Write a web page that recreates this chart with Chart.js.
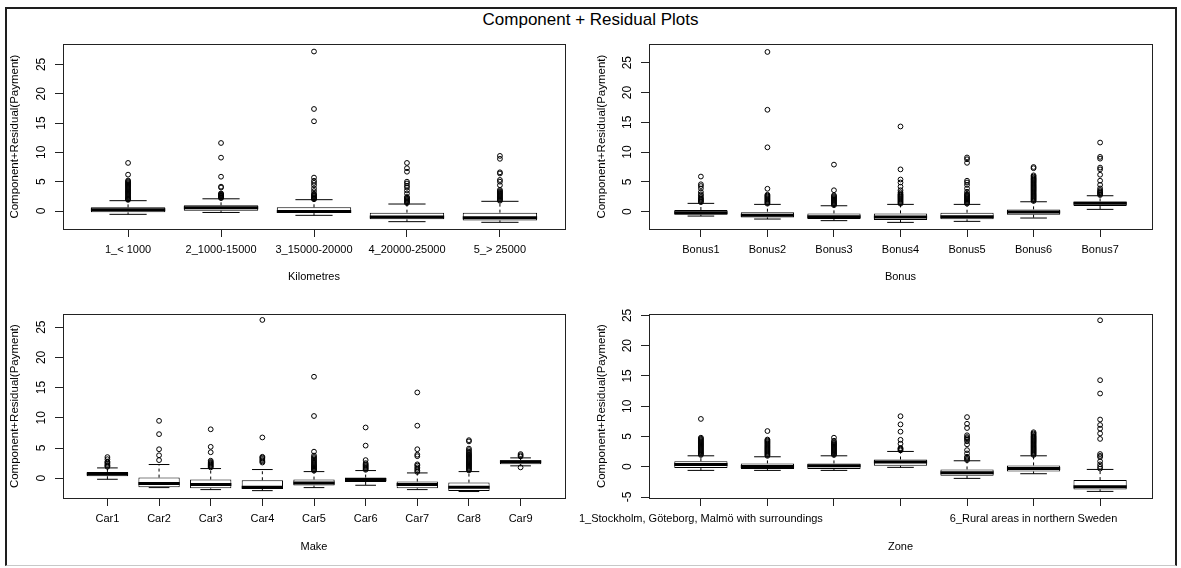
<!DOCTYPE html>
<html>
<head>
<meta charset="utf-8">
<script src="https://cdn.jsdelivr.net/npm/chart.js@4.4.1/dist/chart.umd.min.js"></script>
<style>
  html, body { margin: 0; padding: 0; background: #fff; }
  body { width: 1181px; height: 568px; position: relative; overflow: hidden;
         font-family: "Liberation Sans", Arial, sans-serif; }
  #frame { position: absolute; left: 5px; top: 7px; width: 1172px; height: 559px; box-sizing: border-box;
           border: 2px solid #1e1e1e; border-bottom: 1px solid #c8c8c8; }
  #title { position: absolute; left: 0; top: 10px; width: 1181px; text-align: center;
           font-size: 17px; line-height: 20px; color: #000; }
  canvas { position: absolute; }
</style>
</head>
<body>
<div id="frame"></div>
<div id="title">Component + Residual Plots</div>
<canvas id="kmChart" width="590" height="270" style="left:0;top:30px"></canvas>
<canvas id="bonusChart" width="621" height="270" style="left:560px;top:30px"></canvas>
<canvas id="makeChart" width="590" height="268" style="left:0;top:300px"></canvas>
<canvas id="zoneChart" width="621" height="268" style="left:560px;top:300px"></canvas>
<script>
// ---- Kilometres ----
const kmLabels = ["1_< 1000", "2_1000-15000", "3_15000-20000", "4_20000-25000", "5_> 25000"];
const kmQ1 = [-0.23, 0.05, -0.36, -1.42, -1.6];
const kmMedian = [0.2, 0.57, -0.1, -1.02, -1.14];
const kmQ3 = [0.62, 0.97, 0.63, -0.28, -0.28];
const kmLow = [-0.57, -0.25, -0.74, -1.82, -1.93];
const kmHigh = [1.76, 2.08, 1.93, 1.19, 1.65];
const kmOutliers = [
  [1.9, 2.0, 2.1, 2.2, 2.35, 2.5, 2.65, 2.8, 2.95, 3.1, 3.25, 3.4, 3.55, 3.7, 3.85, 4.0, 4.15, 4.3, 4.45, 4.6, 4.75, 4.9, 5.05, 5.2, 6.2, 8.2],
  [2.2, 2.3, 2.4, 2.5, 2.6, 2.7, 2.8, 2.9, 3.0, 4.0, 4.15, 5.85, 9.1, 11.6],
  [2.0, 2.1, 2.2, 2.35, 2.5, 2.65, 2.8, 2.95, 3.4, 3.85, 4.4, 4.8, 5.15, 5.7, 15.3, 17.4, 27.2],
  [1.35, 1.5, 1.65, 1.8, 1.95, 2.1, 2.25, 2.4, 3.0, 3.5, 4.0, 4.3, 4.7, 5.0, 6.7, 7.3, 8.2],
  [1.75, 1.9, 2.05, 2.2, 2.35, 2.5, 2.65, 2.8, 2.95, 3.1, 3.25, 3.4, 3.6, 4.4, 5.0, 5.3, 6.4, 6.6, 8.9, 9.4]
];

// ---- Bonus ----
const bonusLabels = ["Bonus1", "Bonus2", "Bonus3", "Bonus4", "Bonus5", "Bonus6", "Bonus7"];
const bonusQ1 = [-0.5, -0.95, -1.23, -1.4, -1.28, -0.5, 0.95];
const bonusMedian = [-0.17, -0.61, -0.84, -0.9, -0.84, -0.06, 1.4];
const bonusQ3 = [0.28, 0.0, -0.28, -0.28, -0.17, 0.39, 1.73];
const bonusLow = [-0.73, -1.23, -1.5, -1.79, -1.62, -1.06, 0.39];
const bonusHigh = [1.4, 1.23, 1.0, 1.23, 1.23, 1.67, 2.68];
const bonusOutliers = [
  [1.6, 1.75, 1.9, 2.05, 2.2, 2.4, 2.7, 2.9, 3.3, 3.9, 4.3, 4.6, 5.9],
  [1.35, 1.5, 1.65, 1.8, 1.95, 2.1, 2.25, 2.4, 2.55, 2.7, 2.85, 3.85, 10.8, 17.1, 26.8],
  [1.1, 1.25, 1.4, 1.55, 1.7, 1.85, 2.0, 2.15, 2.3, 2.45, 2.6, 2.75, 3.6, 7.9],
  [1.35, 1.5, 1.65, 1.8, 1.95, 2.1, 2.25, 2.4, 2.55, 2.7, 2.85, 3.0, 3.25, 3.6, 4.2, 4.9, 5.4, 7.1, 14.3],
  [1.35, 1.5, 1.65, 1.8, 1.95, 2.1, 2.25, 2.4, 2.55, 2.7, 2.85, 3.0, 3.35, 3.9, 4.5, 4.9, 5.2, 8.2, 8.8, 9.1],
  [1.8, 1.95, 2.1, 2.25, 2.4, 2.55, 2.7, 2.85, 3.0, 3.15, 3.3, 3.45, 3.6, 3.75, 3.9, 4.05, 4.2, 4.35, 4.5, 4.65, 4.8, 4.95, 5.1, 5.25, 5.4, 5.55, 5.7, 5.9, 6.1, 7.3, 7.5],
  [2.8, 2.95, 3.1, 3.25, 3.4, 3.6, 3.9, 4.5, 5.2, 6.2, 7.1, 7.4, 8.9, 9.2, 11.6]
];

// ---- Make ----
const makeLabels = ["Car1", "Car2", "Car3", "Car4", "Car5", "Car6", "Car7", "Car8", "Car9"];
const makeQ1 = [0.33, -1.49, -1.66, -1.77, -1.22, -0.61, -1.66, -2.1, 2.32];
const makeMedian = [0.72, -0.88, -1.05, -1.49, -0.77, -0.22, -1.05, -1.49, 2.71];
const makeQ3 = [1.05, 0.11, -0.22, -0.33, -0.22, 0.11, -0.55, -0.72, 2.99];
const makeLow = [-0.17, -1.55, -1.88, -2.05, -1.55, -1.16, -1.88, -2.2, 2.05];
const makeHigh = [1.71, 2.27, 1.6, 1.44, 1.1, 1.27, 0.88, 1.1, 3.37];
const makeOutliers = [
  [1.9, 2.05, 2.2, 2.4, 2.6, 2.75, 3.15, 3.5],
  [3.0, 3.8, 4.8, 7.3, 9.5],
  [1.8, 1.95, 2.1, 2.25, 2.4, 2.55, 2.7, 2.9, 4.3, 5.2, 8.1],
  [2.6, 2.8, 3.0, 3.2, 3.4, 3.55, 6.75, 26.2],
  [1.25, 1.4, 1.55, 1.7, 1.85, 2.0, 2.15, 2.3, 2.5, 2.7, 2.9, 3.1, 3.3, 3.5, 3.75, 4.4, 10.3, 16.8],
  [1.4, 1.55, 1.7, 1.85, 2.0, 2.15, 2.3, 2.5, 3.0, 5.4, 8.4],
  [1.05, 1.3, 1.55, 1.8, 2.1, 2.3, 3.65, 3.9, 4.8, 8.7, 14.2],
  [1.3, 1.45, 1.6, 1.75, 1.9, 2.05, 2.2, 2.35, 2.5, 2.65, 2.8, 2.95, 3.1, 3.25, 3.4, 3.55, 3.7, 3.85, 4.0, 4.2, 4.4, 4.65, 4.9, 6.1, 6.3],
  [1.8, 3.6, 3.8, 4.0]
];

// ---- Zone ----
const zoneLabels = ["1_Stockholm, Göteborg, Malmö with surroundings", "", "", "", "", "6_Rural areas in northern Sweden", ""];
const zoneQ1 = [-0.22, -0.38, -0.38, 0.16, -1.48, -0.77, -3.74];
const zoneMedian = [0.38, 0.05, 0.16, 0.77, -0.99, -0.27, -3.3];
const zoneQ3 = [0.93, 0.55, 0.55, 1.2, -0.44, 0.22, -2.2];
const zoneLow = [-0.6, -0.6, -0.6, -0.1, -1.92, -1.15, -4.07];
const zoneHigh = [1.81, 1.65, 1.81, 2.53, 0.99, 1.81, -0.44];
const zoneOutliers = [
  [1.95, 2.1, 2.25, 2.4, 2.55, 2.7, 2.85, 3.0, 3.15, 3.3, 3.45, 3.6, 3.75, 3.9, 4.05, 4.2, 4.35, 4.5, 4.65, 4.8, 7.9],
  [1.8, 1.95, 2.1, 2.25, 2.4, 2.55, 2.7, 2.85, 3.0, 3.15, 3.3, 3.45, 3.6, 3.75, 3.9, 4.05, 4.2, 4.35, 4.5, 5.9],
  [1.95, 2.1, 2.25, 2.4, 2.55, 2.7, 2.85, 3.0, 3.15, 3.3, 3.45, 3.6, 3.75, 3.9, 4.05, 4.3, 4.8],
  [2.7, 2.85, 3.0, 3.1, 3.8, 4.45, 5.8, 7.0, 8.35],
  [1.1, 1.3, 1.5, 1.65, 2.2, 2.75, 3.7, 4.2, 4.5, 4.7, 4.9, 5.2, 6.4, 7.1, 8.2],
  [1.95, 2.1, 2.25, 2.4, 2.55, 2.7, 2.85, 3.0, 3.15, 3.3, 3.45, 3.6, 3.75, 3.9, 4.05, 4.2, 4.35, 4.5, 4.65, 4.8, 4.95, 5.1, 5.3, 5.5, 5.7],
  [-0.3, 0.0, 0.4, 0.9, 1.6, 1.8, 2.1, 4.6, 5.5, 6.3, 6.9, 7.8, 12.1, 14.3, 24.2]
];

// y axis ticks / limits
const yTicksPos = [0, 5, 10, 15, 20, 25];
const yTicksZone = [-5, 0, 5, 10, 15, 20, 25];
const kmYRange = [-3.07, 28.45];
const bonusYRange = [-2.9, 28.1];
const makeYRange = [-3.27, 27.15];
const zoneYRange = [-5.16, 25.2];

const FONT = "'Liberation Sans', Arial, sans-serif";
const INK = "#000";

// frame around the plot region (R's box())
const plotFrame = {
  id: "plotFrame",
  afterDatasetsDraw(chart) {
    const { ctx, chartArea: a } = chart;
    ctx.save();
    ctx.strokeStyle = "#222";
    ctx.lineWidth = 1;
    ctx.strokeRect(Math.round(a.left) + 0.5, Math.round(a.top) + 0.5,
      Math.round(a.right - a.left), Math.round(a.bottom - a.top));
    ctx.restore();
  }
};

function boxDatasets(q1, med, q3, lo, hi, outliers) {
  const pos = q1.map((_, i) => i + 1);
  return [
    {
      type: "line", label: "median", order: 0,
      data: pos.flatMap((x, i) => [{ x: x - 0.4, y: med[i] }, { x: x + 0.4, y: med[i] }, { x: x, y: null }]),
      borderColor: INK, borderWidth: 3, borderCapStyle: "butt", pointRadius: 0, spanGaps: false
    },
    {
      type: "scatter", label: "outliers", order: 0,
      data: outliers.flatMap((vals, i) => vals.map((v) => ({ x: pos[i], y: v }))),
      pointRadius: 2.4, pointBorderWidth: 1, pointBorderColor: INK,
      pointBackgroundColor: "rgba(0,0,0,0)"
    },
    {
      type: "bar", label: "box", order: 1,
      data: pos.map((x, i) => ({ x: x, y: [q1[i], q3[i]] })),
      backgroundColor: "#fff", borderColor: INK, borderWidth: 1, borderSkipped: false,
      barPercentage: 0.8, categoryPercentage: 1
    },
    {
      type: "line", label: "whisker", order: 2,
      data: pos.flatMap((x, i) => [
        { x: x, y: q3[i] }, { x: x, y: hi[i] }, { x: x, y: null },
        { x: x, y: q1[i] }, { x: x, y: lo[i] }, { x: x, y: null }
      ]),
      borderColor: INK, borderWidth: 1, borderDash: [3, 3], pointRadius: 0, spanGaps: false
    },
    {
      type: "line", label: "staple", order: 2,
      data: pos.flatMap((x, i) => [
        { x: x - 0.2, y: hi[i] }, { x: x + 0.2, y: hi[i] }, { x: x, y: null },
        { x: x - 0.2, y: lo[i] }, { x: x + 0.2, y: lo[i] }, { x: x, y: null }
      ]),
      borderColor: INK, borderWidth: 1, pointRadius: 0, spanGaps: false
    }
  ];
}

function makePanel(id, p) {
  const n = p.labels.length;
  new Chart(document.getElementById(id), {
    type: "bar",
    data: { datasets: boxDatasets(p.q1, p.med, p.q3, p.lo, p.hi, p.out) },
    plugins: [plotFrame],
    options: {
      responsive: false,
      animation: false,
      events: [],
      layout: { padding: { left: 0, top: 14, right: p.padRight, bottom: 0 } },
      plugins: { legend: { display: false }, tooltip: { enabled: false } },
      scales: {
        x: {
          type: "linear",
          offset: false,
          min: 0.5 - 0.04 * n,
          max: n + 0.5 + 0.04 * n,
          afterBuildTicks: (s) => { s.ticks = p.labels.map((_, i) => ({ value: i + 1 })); },
          afterFit: (s) => { s.height = p.xHeight; },
          grid: { display: true, drawOnChartArea: false, drawTicks: true, tickLength: 8, color: "#222", offset: false },
          border: { display: false },
          ticks: {
            autoSkip: false, maxRotation: 0, minRotation: 0, padding: 6, color: INK,
            font: { family: FONT, size: 11 },
            callback: (v, i) => p.labels[i]
          },
          title: {
            display: true, text: p.xTitle, color: INK,
            font: { family: FONT, size: 11 },
            padding: { top: 0, bottom: p.xTitlePad }
          }
        },
        y: {
          type: "linear",
          min: p.yRange[0],
          max: p.yRange[1],
          afterBuildTicks: (s) => { s.ticks = p.yTicks.map((v) => ({ value: v })); },
          afterFit: (s) => { s.width = p.yWidth; },
          grid: { display: true, drawOnChartArea: false, drawTicks: true, tickLength: 8, color: "#222" },
          border: { display: false },
          ticks: {
            autoSkip: false, minRotation: 90, maxRotation: 90, crossAlign: "center", padding: 7, color: INK,
            font: { family: FONT, size: 12 },
            callback: (v) => String(v)
          },
          title: {
            display: true, text: "Component+Residual(Payment)", color: INK,
            font: { family: FONT, size: 11.5 },
            padding: { top: p.yTitlePad, bottom: 0 }
          }
        }
      }
    }
  });
}

makePanel("kmChart", {
  labels: kmLabels, q1: kmQ1, med: kmMedian, q3: kmQ3, lo: kmLow, hi: kmHigh, out: kmOutliers,
  xTitle: "Kilometres", yRange: kmYRange, yTicks: yTicksPos,
  yWidth: 63, xHeight: 71, padRight: 25, yTitlePad: 8, xTitlePad: 16.4
});
makePanel("bonusChart", {
  labels: bonusLabels, q1: bonusQ1, med: bonusMedian, q3: bonusQ3, lo: bonusLow, hi: bonusHigh, out: bonusOutliers,
  xTitle: "Bonus", yRange: bonusYRange, yTicks: yTicksPos,
  yWidth: 89, xHeight: 71, padRight: 29, yTitlePad: 35, xTitlePad: 16.4
});
makePanel("makeChart", {
  labels: makeLabels, q1: makeQ1, med: makeMedian, q3: makeQ3, lo: makeLow, hi: makeHigh, out: makeOutliers,
  xTitle: "Make", yRange: makeYRange, yTicks: yTicksPos,
  yWidth: 63, xHeight: 70, padRight: 25, yTitlePad: 8, xTitlePad: 14.4
});
makePanel("zoneChart", {
  labels: zoneLabels, q1: zoneQ1, med: zoneMedian, q3: zoneQ3, lo: zoneLow, hi: zoneHigh, out: zoneOutliers,
  xTitle: "Zone", yRange: zoneYRange, yTicks: yTicksZone,
  yWidth: 89, xHeight: 70, padRight: 29, yTitlePad: 35, xTitlePad: 14.4
});
</script>
</body>
</html>
